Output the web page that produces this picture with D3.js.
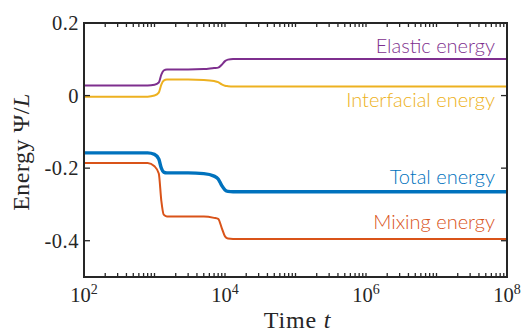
<!DOCTYPE html>
<html>
<head>
<meta charset="utf-8">
<script src="https://cdn.jsdelivr.net/npm/d3@7"></script>
<style>
  body { margin: 0; background: #fff; }
  svg { display: block; }
</style>
</head>
<body>
<div class="chart"></div>
<script>
// time points shared by all series
const times = [100, 800, 1000, 1150, 1250, 1350, 1500, 3000, 5000, 7000, 8000, 9000, 10000, 11000, 13000, 1e8];

const elastic     = [0.028, 0.028, 0.030, 0.036, 0.058, 0.069, 0.072, 0.072, 0.073, 0.076, 0.077, 0.085, 0.095, 0.099, 0.101, 0.101];
const interfacial = [-0.003, -0.003, 0.0, 0.008, 0.030, 0.041, 0.044, 0.044, 0.043, 0.040, 0.037, 0.031, 0.027, 0.026, 0.025, 0.025];
const total       = [-0.158, -0.158, -0.162, -0.175, -0.200, -0.211, -0.213, -0.213, -0.215, -0.222, -0.230, -0.248, -0.260, -0.264, -0.265, -0.265];
const mixing      = [-0.186, -0.186, -0.195, -0.215, -0.290, -0.328, -0.333, -0.333, -0.333, -0.337, -0.340, -0.365, -0.388, -0.394, -0.395, -0.395];

const seriesNames = ['Elastic energy', 'Interfacial energy', 'Total energy', 'Mixing energy'];
const yTicks = [0.2, 0, -0.2, -0.4];
const xTickExps = [2, 4, 6, 8];

const series = [
  { name: seriesNames[0], values: elastic,     color: '#7E2F8E', width: 2 },
  { name: seriesNames[1], values: interfacial, color: '#EDB120', width: 2 },
  { name: seriesNames[2], values: total,       color: '#0072BD', width: 3.4 },
  { name: seriesNames[3], values: mixing,      color: '#D95319', width: 2 },
];

const W = 522, H = 332;
const margin = { top: 23, right: 15, bottom: 55, left: 84 };
const width = W - margin.left - margin.right;
const height = H - margin.top - margin.bottom;

const svg = d3.select('.chart').append('svg')
  .attr('width', W).attr('height', H);

const g = svg.append('g').attr('transform', `translate(${margin.left},${margin.top})`);

const x = d3.scaleLog().domain([1e2, 1e8]).range([0, width]);
const y = d3.scaleLinear().domain([-0.5, 0.2]).range([height, 0]);

const serif = "'Liberation Serif', 'DejaVu Serif', serif";
const axisColor = '#262626';

// lines
const line = d3.line()
  .x((d) => x(d[0]))
  .y((d) => y(d[1]))
  .curve(d3.curveMonotoneX);

series.forEach((s) => {
  g.append('path')
    .datum(times.map((t, i) => [t, s.values[i]]))
    .attr('fill', 'none')
    .attr('stroke', s.color)
    .attr('stroke-width', s.width)
    .attr('d', line);
});

// labels on the right
const labelY = [0.118, -0.031, -0.243, -0.367];
series.forEach((s, i) => {
  g.append('text')
    .attr('x', width - 12)
    .attr('y', y(labelY[i]))
    .attr('text-anchor', 'end')
    .attr('fill', s.color)
    .style('font-family', "'Lato', 'Open Sans', sans-serif")
    .style('font-size', '20px')
    .style('font-weight', 300)
    .text(s.name);
});

// ticks, inward on all four sides
const minorTicks = [];
for (let e = 2; e < 8; e++) {
  for (let m = 1; m <= 9; m++) minorTicks.push(m * Math.pow(10, e));
}
minorTicks.push(1e8);

const tickLen = 4;
const tk = g.append('g').attr('stroke', axisColor).attr('stroke-width', 1.3);
minorTicks.forEach((t) => {
  tk.append('line').attr('x1', x(t)).attr('x2', x(t)).attr('y1', height).attr('y2', height - tickLen);
  tk.append('line').attr('x1', x(t)).attr('x2', x(t)).attr('y1', 0).attr('y2', tickLen);
});
yTicks.forEach((v) => {
  tk.append('line').attr('x1', 0).attr('x2', 6).attr('y1', y(v)).attr('y2', y(v));
  tk.append('line').attr('x1', width).attr('x2', width - 6).attr('y1', y(v)).attr('y2', y(v));
});

// frame
g.append('rect')
  .attr('width', width).attr('height', height)
  .attr('fill', 'none')
  .attr('stroke', axisColor)
  .attr('stroke-width', 2);

// y tick labels
yTicks.forEach((v) => {
  g.append('text')
    .attr('x', -5)
    .attr('y', y(v))
    .attr('dy', '0.35em')
    .attr('text-anchor', 'end')
    .attr('fill', axisColor)
    .style('font-family', serif)
    .style('font-size', '20.5px')
    .style('letter-spacing', '0.5px')
    .text(v === 0 ? '0' : d3.format('.1f')(v).replace('−', '-'));
});

// x tick labels 10^k
xTickExps.forEach((e) => {
  const t = g.append('text')
    .attr('x', x(Math.pow(10, e)))
    .attr('y', height + 25)
    .attr('text-anchor', 'middle')
    .attr('fill', axisColor)
    .style('font-family', serif)
    .style('font-size', '20.5px');
  t.append('tspan').text('10');
  t.append('tspan').attr('dy', -8).style('font-size', '14px').text(e);
});

// axis titles
const xt = g.append('text')
  .attr('x', width / 2 + 2)
  .attr('y', height + 51)
  .attr('text-anchor', 'middle')
  .attr('fill', axisColor)
  .style('font-family', serif)
  .style('font-size', '24px')
  .style('letter-spacing', '0.8px');
xt.append('tspan').text('Time ');
xt.append('tspan').style('font-style', 'italic').text('t');

const yt = g.append('text')
  .attr('transform', `translate(${-55},${129}) rotate(-90)`)
  .attr('text-anchor', 'middle')
  .attr('fill', axisColor)
  .style('font-family', serif)
  .style('font-size', '24px')
  .style('letter-spacing', '0.5px');
yt.append('tspan').text('Energy Ψ/');
yt.append('tspan').style('font-style', 'italic').text('L');
</script>
</body>
</html>
